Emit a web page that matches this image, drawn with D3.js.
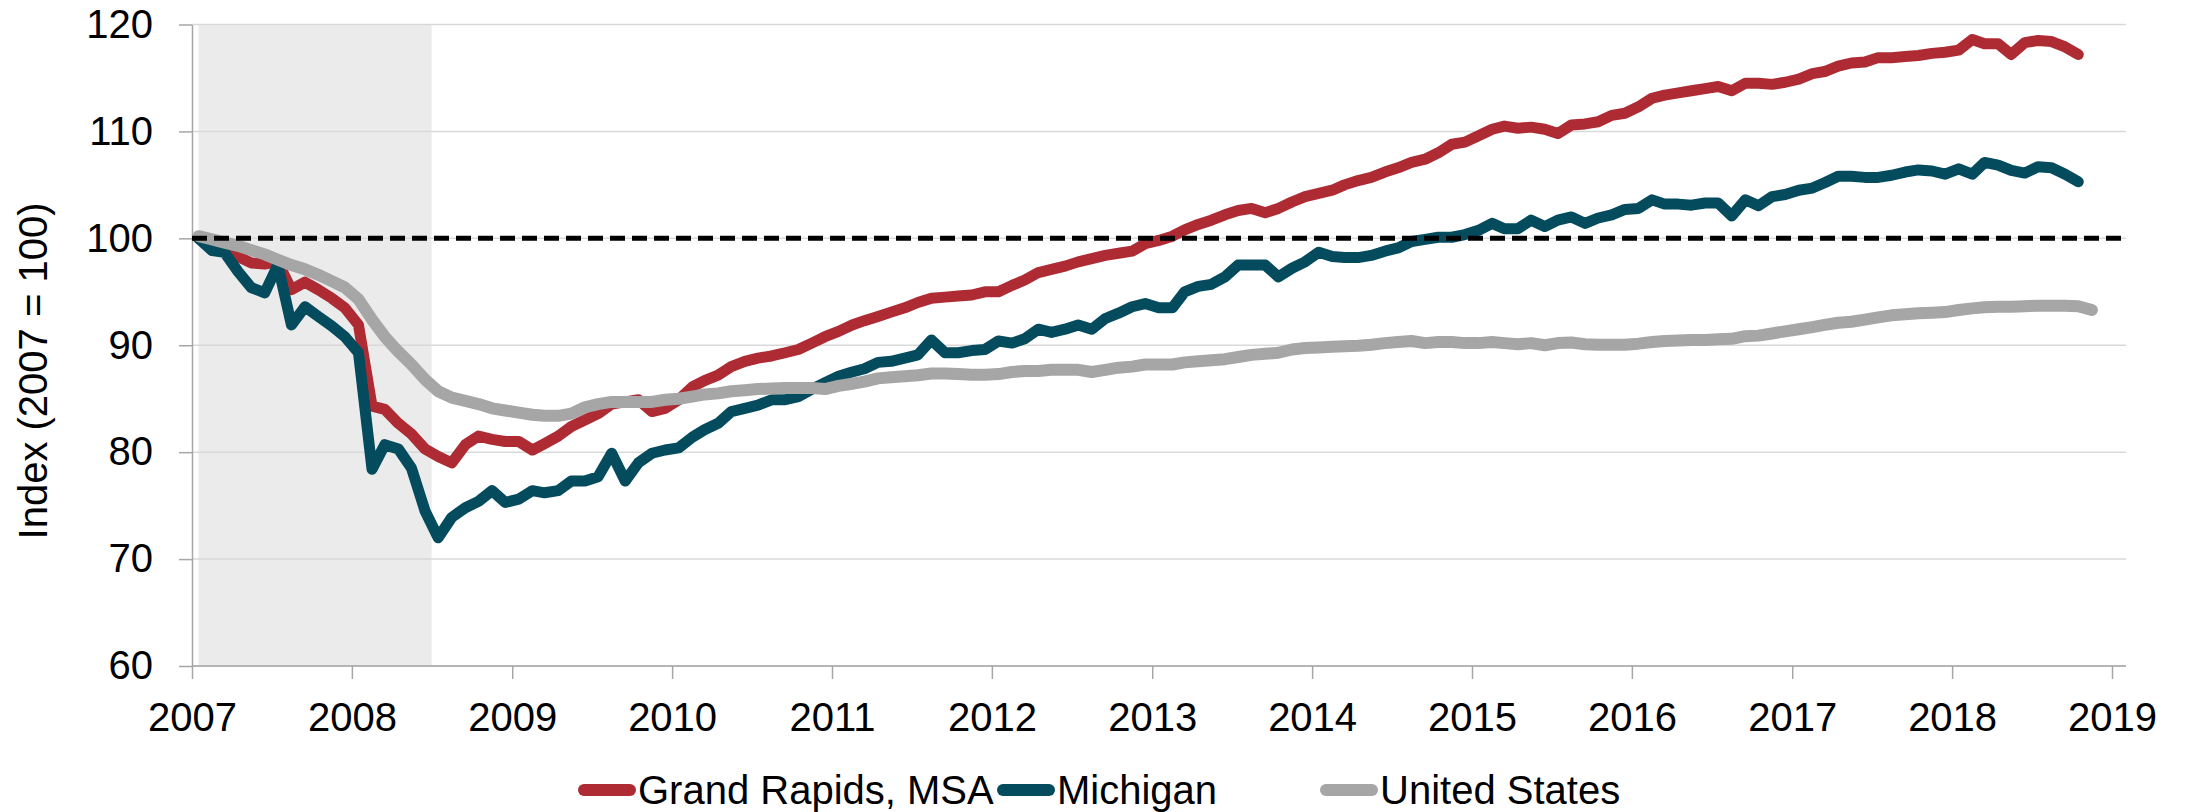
<!DOCTYPE html>
<html>
<head>
<meta charset="utf-8">
<script src="https://cdn.jsdelivr.net/npm/d3@7"></script>
<style>
  body { margin: 0; background: #fff; }
  text { font-family: "Liberation Sans", Arial, sans-serif; }
</style>
</head>
<body>
<script>
var w = 2195;
var h = 812;

// monthly index values, Jan 2007 onward (2007 = 100)
var grandRapids = [100.0, 99.4, 98.9, 98.3, 97.7, 97.6, 97.8, 95.2, 95.9, 95.2, 94.4, 93.5,
    91.9, 84.3, 84.0, 82.7, 81.7, 80.3, 79.6, 79.0, 80.7, 81.5, 81.2, 81.0,
    81.0, 80.2, 80.8, 81.5, 82.4, 83.0, 83.6, 84.5, 84.7, 84.9, 83.8, 84.1,
    84.9, 86.1, 86.7, 87.2, 88.0, 88.5, 88.8, 89.0, 89.3, 89.6, 90.2, 90.8,
    91.3, 91.9, 92.3, 92.7, 93.1, 93.5, 94.0, 94.4, 94.5, 94.6, 94.7, 95.0,
    95.0, 95.6, 96.1, 96.8, 97.1, 97.4, 97.8, 98.1, 98.4, 98.6, 98.8, 99.5,
    99.8, 100.2, 100.8, 101.3, 101.7, 102.2, 102.6, 102.8, 102.4, 102.8, 103.4, 103.9,
    104.2, 104.5, 105.0, 105.4, 105.7, 106.2, 106.6, 107.1, 107.4, 108.0, 108.8, 109.0,
    109.6, 110.2, 110.5, 110.3, 110.4, 110.2, 109.8, 110.6, 110.7, 110.9, 111.5, 111.7,
    112.3, 113.1, 113.4, 113.6, 113.8, 114.0, 114.2, 113.8, 114.5, 114.5, 114.4, 114.6,
    114.9, 115.4, 115.6, 116.1, 116.4, 116.5, 116.9, 116.9, 117.0, 117.1, 117.3, 117.4,
    117.6, 118.6, 118.2, 118.2, 117.2, 118.3, 118.5, 118.4, 117.9, 117.2];

var michigan = [100.0, 98.85, 98.7, 96.9, 95.4, 94.9, 97.5, 91.9, 93.6, 92.7, 91.8, 90.8,
    89.3, 78.4, 80.7, 80.3, 78.5, 74.5, 72.0, 73.9, 74.8, 75.4, 76.4, 75.3,
    75.6, 76.4, 76.2, 76.4, 77.3, 77.3, 77.7, 79.9, 77.3, 79.0, 79.9, 80.2,
    80.4, 81.4, 82.1, 82.7, 83.8, 84.1, 84.4, 84.9, 84.9, 85.2, 85.9, 86.5,
    87.1, 87.5, 87.8, 88.4, 88.5, 88.8, 89.1, 90.5, 89.3, 89.3, 89.5, 89.6,
    90.4, 90.2, 90.6, 91.5, 91.2, 91.5, 91.9, 91.5, 92.5, 93.0, 93.6, 93.9,
    93.5, 93.5, 95.0, 95.5, 95.7, 96.4, 97.5, 97.5, 97.5, 96.4, 97.2, 97.8,
    98.7, 98.3, 98.2, 98.2, 98.4, 98.8, 99.1, 99.7, 99.9, 100.1, 100.1, 100.35,
    100.75, 101.4, 100.9, 100.9, 101.7, 101.1, 101.7, 102.0, 101.4, 101.9, 102.2, 102.7,
    102.8, 103.6, 103.2, 103.2, 103.1, 103.3, 103.3, 102.1, 103.6, 103.05, 103.9, 104.1,
    104.5, 104.7, 105.2, 105.8, 105.8, 105.7, 105.7, 105.9, 106.2, 106.4, 106.3, 106.0,
    106.5, 106.0, 107.1, 106.85, 106.35, 106.1, 106.7, 106.6, 106.0, 105.3];

var unitedStates = [100.2, 99.9, 99.6, 99.3, 98.9, 98.5, 98.0, 97.5, 97.1, 96.6, 96.0, 95.4,
    94.3, 92.4, 90.8, 89.4, 88.2, 86.8, 85.7, 85.1, 84.8, 84.5, 84.1, 83.9,
    83.7, 83.5, 83.4, 83.4, 83.6, 84.2, 84.5, 84.7, 84.7, 84.7, 84.7, 84.9,
    85.0, 85.2, 85.4, 85.5, 85.7, 85.8, 85.9, 85.95, 86.0, 86.0, 86.0, 85.9,
    86.2, 86.4, 86.6, 86.9, 87.0, 87.1, 87.2, 87.35, 87.35, 87.3, 87.25, 87.25,
    87.3, 87.5, 87.6, 87.6, 87.7, 87.7, 87.7, 87.5, 87.7, 87.9, 88.0, 88.2,
    88.2, 88.2, 88.4, 88.5, 88.6, 88.7, 88.9, 89.1, 89.2, 89.3, 89.6, 89.75,
    89.8, 89.85, 89.9, 89.95, 90.05, 90.2, 90.3, 90.4, 90.2, 90.3, 90.3, 90.2,
    90.2, 90.3, 90.2, 90.1, 90.2, 90.0, 90.2, 90.25, 90.1, 90.05, 90.05, 90.05,
    90.15, 90.3, 90.4, 90.45, 90.5, 90.5, 90.55, 90.6, 90.85, 90.9, 91.1, 91.3,
    91.5, 91.7, 91.9, 92.1, 92.2, 92.4, 92.6, 92.8, 92.9, 93.0, 93.05, 93.1,
    93.3, 93.45, 93.55, 93.6, 93.6, 93.65, 93.7, 93.7, 93.7, 93.65, 93.3];

var seriesNames = ["Grand Rapids, MSA", "Michigan", "United States"];
var seriesColors = ["#AE2B34", "#034B5D", "#A6A6A6"];
var seriesWidths = [11, 11, 12];
var yTicks = [60, 70, 80, 90, 100, 110, 120];
var xYears = [2007, 2008, 2009, 2010, 2011, 2012, 2013, 2014, 2015, 2016, 2017, 2018, 2019];
var recession = [new Date(2007, 0, 16), new Date(2008, 6, 1)];
var baseline = 100;

function monthDate(i) { return new Date(2007, i, 16); }

var plotLeft = 192, plotRight = 2126, plotTop = 24.5, plotBottom = 666;

var x = d3.scaleTime()
    .domain([new Date(2007, 0, 1), new Date(2019, 0, 1)])
    .range([plotLeft, 2112]);
var y = d3.scaleLinear().domain([60, 120]).range([plotBottom, plotTop]);

var svg = d3.select("body").append("svg").attr("width", w).attr("height", h);

// recession shading
svg.append("rect")
    .attr("x", x(recession[0]))
    .attr("y", plotTop)
    .attr("width", x(recession[1]) - x(recession[0]))
    .attr("height", plotBottom - plotTop)
    .style("fill", "#EBEBEB");

// gridlines
svg.selectAll(".grid")
    .data(yTicks)
    .enter()
    .append("line")
    .attr("x1", plotLeft)
    .attr("x2", plotRight)
    .attr("y1", function (d) { return y(d); })
    .attr("y2", function (d) { return y(d); })
    .style("stroke", "#D9D9D9")
    .style("stroke-width", 1.5);

// y axis
var yAxis = svg.append("g")
    .attr("transform", "translate(" + plotLeft + ",0)")
    .call(d3.axisLeft(y).tickValues(yTicks).tickSize(13).tickPadding(26).tickSizeOuter(0));
yAxis.select(".domain").style("stroke", "#A6A6A6").style("stroke-width", 1.5);
yAxis.selectAll(".tick line").style("stroke", "#A6A6A6").style("stroke-width", 1.5);
yAxis.selectAll("text").style("font-size", "40px").style("fill", "#000")
    .style("font-family", "Liberation Sans, Arial, sans-serif");

// x axis
var xAxis = svg.append("g")
    .attr("transform", "translate(0," + plotBottom + ")")
    .call(d3.axisBottom(x)
        .tickValues(xYears.map(function (d) { return new Date(d, 0, 1); }))
        .tickFormat(d3.timeFormat("%Y"))
        .tickSize(13).tickPadding(24).tickSizeOuter(0));
xAxis.select(".domain").remove();
xAxis.selectAll(".tick line").style("stroke", "#A6A6A6").style("stroke-width", 1.5);
xAxis.selectAll("text").style("font-size", "40px").style("fill", "#000")
    .style("font-family", "Liberation Sans, Arial, sans-serif");
svg.append("line")
    .attr("x1", plotLeft).attr("x2", plotRight)
    .attr("y1", plotBottom).attr("y2", plotBottom)
    .style("stroke", "#A6A6A6").style("stroke-width", 1.5);

// y axis title
svg.append("text")
    .attr("transform", "translate(47,371) rotate(-90)")
    .attr("text-anchor", "middle")
    .style("font-size", "40px")
    .text("Index (2007 = 100)");

// series lines
var line = d3.line()
    .x(function (d, i) { return x(monthDate(i)); })
    .y(function (d) { return y(d); });

var allSeries = [grandRapids, michigan, unitedStates];
svg.selectAll(".series")
    .data(allSeries)
    .enter()
    .append("path")
    .attr("d", line)
    .style("fill", "none")
    .style("stroke", function (d, i) { return seriesColors[i]; })
    .style("stroke-width", function (d, i) { return seriesWidths[i]; })
    .style("stroke-linejoin", "round")
    .style("stroke-linecap", "round");

// 2007 = 100 reference line
svg.append("line")
    .attr("x1", plotLeft).attr("x2", plotRight)
    .attr("y1", y(baseline)).attr("y2", y(baseline))
    .style("stroke", "#000")
    .style("stroke-width", 5)
    .style("stroke-dasharray", "15,7");

// legend
var legendY = 790;
var legendX = [578, 997, 1320];
seriesNames.forEach(function (name, i) {
    svg.append("line")
        .attr("x1", legendX[i] + 6).attr("x2", legendX[i] + 52)
        .attr("y1", legendY).attr("y2", legendY)
        .style("stroke", seriesColors[i])
        .style("stroke-width", 12)
        .style("stroke-linecap", "round");
    svg.append("text")
        .attr("x", legendX[i] + 60)
        .attr("y", legendY + 14)
        .style("font-size", "40px")
        .text(name);
});
</script>
</body>
</html>
